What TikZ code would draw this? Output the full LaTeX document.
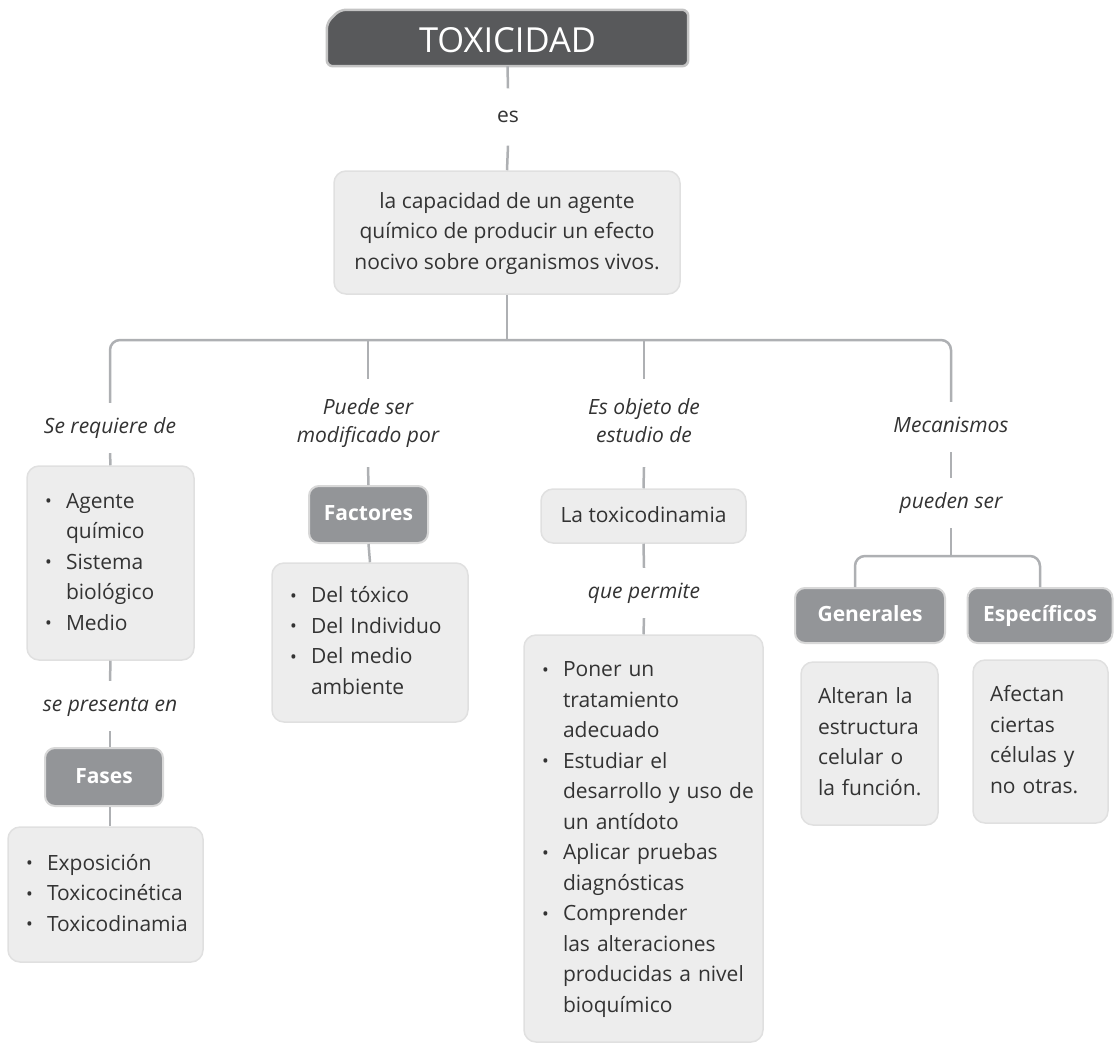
\documentclass[tikz,border=0pt]{standalone}
\usepackage{fontspec}
\setmainfont{Open Sans}
\usetikzlibrary{backgrounds}

\definecolor{boxfill}{HTML}{EDEDED}
\definecolor{boxline}{HTML}{E0E0E0}
\definecolor{tagfill}{HTML}{939598}
\definecolor{tagline}{HTML}{D8D8D8}
\definecolor{titlefill}{HTML}{58595B}
\definecolor{titleline}{HTML}{C4C4C4}
\definecolor{wire}{HTML}{AEB0B3}
\definecolor{ink}{HTML}{333333}

% bullet list lines: first line of an item, and its continuation lines
\newcommand{\bulmark}{\makebox[21pt][l]{\raisebox{0.5pt}{\fontsize{18}{18}\selectfont\textbullet}}}
\newcommand{\bitem}[1]{\mbox{\strut\bulmark #1}}
\newcommand{\bcont}[1]{\mbox{\strut\hspace*{21pt}#1}}
\newcommand{\pline}[1]{\mbox{\strut #1}}

\tikzset{
  wire/.style={draw=wire, line width=2.5pt},
  plainbox/.style={rectangle, rounded corners=12pt, fill=boxfill, draw=boxline,
    line width=1.5pt, text=ink, inner sep=0pt,
    font=\fontsize{21}{30.5}\selectfont},
  listbox/.style={plainbox, align=left, inner xsep=18pt},
  tagbox/.style={rectangle, rounded corners=10pt, fill=tagfill, draw=tagline,
    line width=2pt, text=white, inner sep=0pt,
    font=\fontsize{21}{30.5}\selectfont\bfseries},
  lab/.style={text=ink, inner sep=0pt, minimum height=50pt, align=center,
    font=\fontsize{21}{28}\selectfont\itshape},
}

\begin{document}
\begin{tikzpicture}[x=1pt, y=-1pt]
\useasboundingbox (0,0) rectangle (1114,1045);

% title
\node[minimum width=361pt, minimum height=56pt, inner sep=0pt, text=white,
      font=\fontsize{34.5}{34.5}\selectfont] (title) at (507.5,38)
      {\raisebox{-2pt}[\height][0pt]{TOXICIDAD}};
\begin{scope}[on background layer]
  \path[fill=titlefill, draw=titleline, line width=2.5pt, rounded corners=6pt]
    ([xshift=13pt]title.north west) -- (title.north east) -- (title.south east)
    -- (title.south west) -- ([yshift=-13pt]title.north west) -- cycle;
\end{scope}

\node[lab, minimum height=57pt, font=\fontsize{21}{28}\selectfont] (es) at (508,117) {\strut es};

\node[plainbox, align=center, minimum width=346pt, minimum height=123pt] (def) at (507,232.5)
  {\pline{la capacidad de un agente}\\ \pline{químico de producir un efecto}\\ \pline{nocivo sobre organismos vivos.}};

% branch labels
\node[lab] (sereq) at (110,428) {\strut Se requiere de};
\node[lab, minimum height=88pt] (puede) at (368,423) {\strut Puede ser\\ modificado por\strut};
\node[lab, minimum height=88pt] (esobj) at (644,423) {\strut Es objeto de\\ estudio de\strut};
\node[lab] (mec) at (951,427) {\strut Mecanismos};

% column 1
\node[listbox, minimum width=167pt, minimum height=194pt, text width=131pt] (req) at (110.5,563)
  {\bitem{Agente}\\ \bcont{químico}\\ \bitem{Sistema}\\ \bcont{biológico}\\ \bitem{Medio}};
\node[lab] (sepres) at (110,706) {\strut se presenta en};
\node[tagbox, minimum width=118pt, minimum height=58pt] (fases) at (104,777) {\strut Fases};
\node[listbox, minimum width=195pt, minimum height=135pt, text width=159pt] (fasl) at (105.5,894.5)
  {\bitem{Exposición}\\ \bitem{Toxicocinética}\\ \bitem{Toxicodinamia}};

% column 2
\node[tagbox, minimum width=119pt, minimum height=57pt] (fac) at (368.5,514.5) {\strut Factores};
\node[listbox, minimum width=196pt, minimum height=159pt, text width=160pt] (facl) at (370,642.5)
  {\bitem{Del tóxico}\\ \bitem{Del Individuo}\\ \bitem{Del medio}\\ \bcont{ambiente}};

% column 3
\node[plainbox, minimum width=205pt, minimum height=54pt] (tdin) at (643.5,516) {\strut La toxicodinamia};
\node[lab] (quep) at (644,593) {\strut que permite};
\node[listbox, minimum width=239pt, minimum height=407pt, text width=203pt] (perm) at (643.5,838.5)
  {\bitem{Poner un}\\ \bcont{tratamiento}\\ \bcont{adecuado}\\
   \bitem{Estudiar el}\\ \bcont{desarrollo y uso de}\\ \bcont{un antídoto}\\
   \bitem{Aplicar pruebas}\\ \bcont{diagnósticas}\\
   \bitem{Comprender}\\ \bcont{las alteraciones}\\ \bcont{producidas a nivel}\\ \bcont{bioquímico}};

% column 4
\node[lab] (pueden) at (951,503) {\strut pueden ser};
\node[tagbox, minimum width=150pt, minimum height=55pt] (gen) at (870,615.5) {\strut Generales};
\node[tagbox, minimum width=145pt, minimum height=55pt] (esp) at (1040,615.5) {\strut Específicos};
\node[plainbox, align=left, inner xsep=17pt, minimum width=137pt, minimum height=163pt, text width=103pt] (gent) at (869.5,743.5)
  {\pline{Alteran la}\\ \pline{estructura}\\ \pline{celular o}\\ \pline{la función.}};
\node[plainbox, align=left, inner xsep=17pt, minimum width=135pt, minimum height=163pt, text width=101pt] (espt) at (1040.5,741.5)
  {\pline{Afectan}\\ \pline{ciertas}\\ \pline{células y}\\ \pline{no otras.}};

% connectors
\coordinate (bus) at (507,340);
\coordinate (bus2) at (951,556);
\draw[wire] (title.south) -- (es.north);
\draw[wire] (es.south) -- (def.north);
\draw[wire] (def.south) -- (def.south |- bus);
\draw[wire, rounded corners=10pt] (sereq.north) -- (sereq.north |- bus) -- (mec.north |- bus) -- (mec.north);
\draw[wire] (puede.north) -- (puede.north |- bus);
\draw[wire] (esobj.north) -- (esobj.north |- bus);

\draw[wire] (sereq.south) -- (req.north);
\draw[wire] (req.south) -- (sepres.north);
\draw[wire] (sepres.south) -- (sepres.south |- fases.north);
\draw[wire] (sepres.south |- fases.south) -- (sepres.south |- fasl.north);

\draw[wire] (puede.south) -- (fac.north);
\draw[wire] (fac.south) -- (facl.north);

\draw[wire] (esobj.south) -- (tdin.north);
\draw[wire] (tdin.south) -- (quep.north);
\draw[wire] (quep.south) -- (perm.north);

\draw[wire] (mec.south) -- (pueden.north);
\draw[wire] (pueden.south) -- (bus2);
\draw[wire, rounded corners=10pt] ([xshift=-15pt]gen.north) -- ([xshift=-15pt]gen.north |- bus2) -- (esp.north |- bus2) -- (esp.north);
\end{tikzpicture}
\end{document}
